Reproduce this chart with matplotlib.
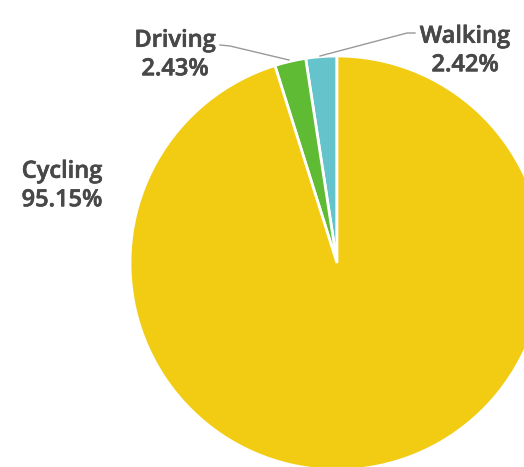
import matplotlib.pyplot as plt
import matplotlib.patheffects as pe

# data
labels = ["Walking", "Driving", "Cycling"]
shares = [2.42, 2.43, 95.15]
colors = ["#65c3cc", "#5fbb33", "#f2cb13"]

W, H = 524, 467
fig = plt.figure(figsize=(W / 100, H / 100), dpi=100)
ax = fig.add_axes([0, 0, 1, 1])

cx, cy, r = 337, H - 263, 207
ax.pie(shares, colors=colors, startangle=90, counterclock=True,
       center=(cx, cy), radius=r, frame=True,
       wedgeprops=dict(edgecolor="white", linewidth=2))
ax.set_xlim(0, W)
ax.set_ylim(0, H)
ax.set_aspect("equal")
ax.axis("off")

# text looks semibold in the original, thicken regular a bit
tc = "#484848"
txt = dict(family="Open Sans", weight="semibold", color=tc,
           fontsize=17, ha="center", va="center", linespacing=1.25,
           path_effects=[pe.withStroke(linewidth=0.45, foreground=tc)])
pos = {"Walking": (465, H - 51), "Driving": (175, H - 55), "Cycling": (62, H - 186)}
for lab, s in zip(labels, shares):
    x, y = pos[lab]
    ax.text(x, y, f"{lab}\n{s:.2f}%", **txt)

# leader lines
ax.plot([415, 407, 320], [H - 33, H - 33, H - 56], color="#999999", lw=1)
ax.plot([220, 230, 289], [H - 45, H - 46, H - 60], color="#999999", lw=1)

fig.savefig("out.png", dpi=100)
